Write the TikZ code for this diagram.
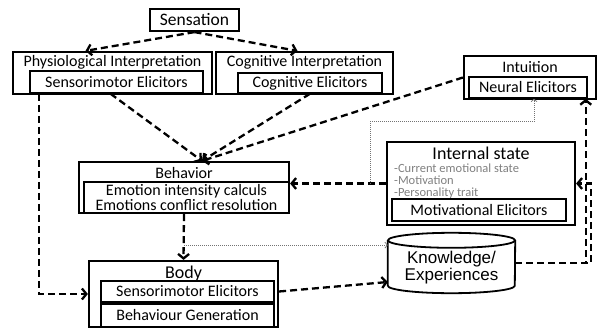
\documentclass[tikz,border=0pt]{standalone}
\usepackage{fontspec}
\setmainfont{Carlito}
\newfontfamily\arialfont{Liberation Sans}
\usetikzlibrary{arrows.meta}

\begin{document}
\begin{tikzpicture}[x=1pt,y=-1pt,
    outer/.style={draw, line width=2.2pt, inner sep=0pt, font=\fontsize{16}{18}\selectfont},
    inner/.style={draw, line width=1.5pt, inner sep=0pt, align=center, font=\fontsize{16}{15}\selectfont},
    ttl/.style={inner sep=0pt, font=\fontsize{16}{18}\selectfont},
    link/.style={line width=2.3pt, dash pattern=on 7pt off 4pt, -{Straight Barb[length=4.5pt,width=11pt]}},
    trace/.style={black!55, line width=0.7pt, dash pattern=on 1pt off 1pt, -{Straight Barb[length=2.5pt,width=6pt]}}]
    \useasboundingbox (0,0) rectangle (597,329);
    % top row
    \node[outer, minimum width=89pt, minimum height=22pt, font=\fontsize{17.5}{18}\selectfont] (sens) at (194.5,20) {Sensation};
    \node[outer, minimum width=199pt, minimum height=42pt] (phys) at (112.5,73) {};
    \node[ttl] (physttl) at (112.5,62) {Physiological Interpretation};
    \node[inner, minimum width=173pt, minimum height=22pt] (physel) at (116.5,82) {Sensorimotor Elicitors};
    \node[outer, minimum width=177pt, minimum height=42pt] (cog) at (304.5,73) {};
    \node[ttl] (cogttl) at (304.5,62) {Cognitive Interpretation};
    \node[inner, minimum width=144pt, minimum height=20pt] (cogel) at (310,83) {Cognitive Elicitors};
    \node[outer, minimum width=132pt, minimum height=43pt] (intu) at (530,77.5) {};
    \node[ttl] (intuttl) at (530,67) {Intuition};
    \node[inner, minimum width=118pt, minimum height=21pt] (intuel) at (528,87.5) {Neural Elicitors};
    % middle row
    \node[outer, minimum width=210pt, minimum height=51pt] (behav) at (184,187.5) {};
    \node[ttl] (behavttl) at (184,173) {Behavior};
    \node[inner, minimum width=205pt, minimum height=31pt] (behavel) at (186.5,197.5) {Emotion intensity calculs\\Emotions conflict resolution};
    \node[outer, minimum width=188pt, minimum height=83pt] (inst) at (481,183.5) {};
    \node[ttl, font=\fontsize{18}{18}\selectfont] (instttl) at (481,153) {Internal state};
    \node[inner sep=0pt, anchor=west, align=left, text=black!50, font=\fontsize{12.5}{12}\selectfont] (instlist) at (394,181) {-Current emotional state\\-Motivation\\-Personality trait};
    \node[inner, minimum width=174pt, minimum height=22pt] (instel) at (479,210) {Motivational Elicitors};
    % bottom row
    \node[outer, minimum width=189pt, minimum height=66pt] (body) at (183.5,294) {};
    \node[ttl, font=\fontsize{18}{18}\selectfont] (bodyttl) at (183.5,274) {Body};
    \node[inner, minimum width=173pt, minimum height=21pt] (bodyel) at (187.5,291.5) {Sensorimotor Elicitors};
    \node[inner, minimum width=173pt, minimum height=23pt] (bodygen) at (187.5,315.5) {Behaviour Generation};
    % knowledge store
    \node[inner sep=0pt, minimum width=127pt, minimum height=60pt] (know) at (451.5,263) {};
    \draw[line width=1.8pt] ([yshift=-7.5pt]know.north) ellipse [x radius=63.5pt, y radius=7.5pt];
    \draw[line width=1.8pt] ([yshift=-7.5pt]know.north west) -- ([yshift=7.5pt]know.south west)
        arc[start angle=180, end angle=360, x radius=63.5pt, y radius=7.5pt] -- ([yshift=-7.5pt]know.north east);
    \node[align=center, inner sep=0pt, font=\arialfont\fontsize{17}{17}\selectfont] (knowtxt) at (451.5,267.5) {Knowledge/\\Experiences};
    \coordinate (bin) at ([xshift=18pt]behav.north);
    \coordinate (split) at ([yshift=-31pt]behav.south);
    % connectors
    \draw[link] (sens.south) -- ([xshift=-27pt]phys.north);
    \draw[link] (sens.south) -- ([xshift=-7pt]cog.north);
    \draw[link] ([xshift=-6pt]physel.south) -- (bin);
    \draw[link] (cogel.south) -- (bin);
    \draw[link] (intu.west) -- (bin);
    \draw[link] (inst.west) -- (inst.west -| behav.east);
    \draw[trace] ([xshift=-16pt]inst.west) |- ([xshift=6pt,yshift=-23pt]intuel.south) -- ([xshift=6pt]intuel.south);
    \draw[link] (behav.south) -- (body.north);
    \draw[trace] (split) -- (split -| know.west);
    \draw[link] ([xshift=10pt]physel.south west) |- (body.west);
    \draw[link] (body.east |- bodyel.east) -- ([yshift=-19pt]know.west);
    \draw[link] (know.east) -| ([xshift=-2pt]intuel.south east);
    \draw[link] (know.east) -| ([xshift=15pt]inst.east) -- (inst.east);
\end{tikzpicture}
\end{document}
